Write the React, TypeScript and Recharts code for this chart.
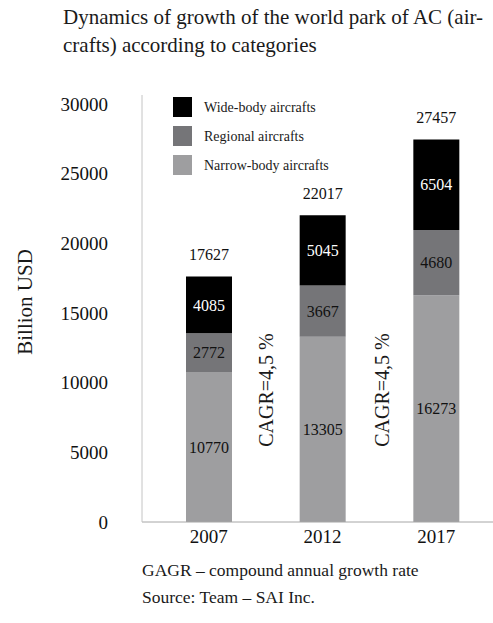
import React from 'react';
import { BarChart, Bar, XAxis, YAxis, LabelList } from 'recharts';

const years = ['2007', '2012', '2017'];
const narrowBody = [10770, 13305, 16273];
const regional = [2772, 3667, 4680];
const wideBody = [4085, 5045, 6504];
const totals = [17627, 22017, 27457];
const yTicks = [0, 5000, 10000, 15000, 20000, 25000, 30000];

const FONT = 'Liberation Serif, Times New Roman, serif';
const WIDE = '#000000';
const REGIONAL = '#757578';
const NARROW = '#9e9ea0';

const data = years.map((year, i) => ({
  year,
  narrow: narrowBody[i],
  regional: regional[i],
  wide: wideBody[i],
  total: totals[i],
}));

const legendItems = [
  { name: 'Wide-body aircrafts', color: WIDE },
  { name: 'Regional aircrafts', color: REGIONAL },
  { name: 'Narrow-body aircrafts', color: NARROW },
];

// total printed above each stacked column
// eslint-disable-next-line @typescript-eslint/no-explicit-any
function TotalLabel(props: any) {
  const { x, y, width, index } = props;
  return (
    <text
      x={x + width / 2}
      y={y - 22}
      textAnchor="middle"
      dominantBaseline="central"
      fontSize={16}
      style={{ fontFamily: FONT }}
      fill="#111"
    >
      {totals[index]}
    </text>
  );
}

const tickStyle = { fontSize: 19, fill: '#111', style: { fontFamily: FONT } };

export default function App() {
  return (
    <div style={{ position: 'absolute', left: 0, top: 0, width: 493, height: 623, background: '#fff', fontFamily: FONT }}>
      <BarChart
        width={493}
        height={623}
        data={data}
        margin={{ top: 95, right: 0, left: 0, bottom: 71 }}
        barSize={46}
        style={{ fontFamily: FONT }}
      >
        <XAxis
          dataKey="year"
          height={30}
          padding={{ left: 10, right: 0 }}
          tickLine={false}
          tickSize={0}
          tickMargin={8}
          axisLine={{ stroke: '#a6a6a6' }}
          tick={tickStyle}
        />
        <YAxis
          width={142}
          domain={[0, 30650]}
          ticks={yTicks}
          interval={0}
          tickLine={false}
          tickSize={0}
          tickMargin={34}
          axisLine={{ stroke: '#c4c4c4' }}
          tick={tickStyle}
        />
        <Bar dataKey="narrow" stackId="a" fill={NARROW} isAnimationActive={false}>
          <LabelList dataKey="narrow" position="center" fontSize={16} fill="#111" style={{ fontFamily: FONT }} />
        </Bar>
        <Bar dataKey="regional" stackId="a" fill={REGIONAL} isAnimationActive={false}>
          <LabelList dataKey="regional" position="center" fontSize={16} fill="#111" style={{ fontFamily: FONT }} />
        </Bar>
        <Bar dataKey="wide" stackId="a" fill={WIDE} isAnimationActive={false}>
          <LabelList dataKey="wide" position="center" fontSize={16} fill="#fff" style={{ fontFamily: FONT }} />
          <LabelList dataKey="total" content={<TotalLabel />} />
        </Bar>
      </BarChart>

      <svg width={493} height={623} style={{ position: 'absolute', left: 0, top: 0, pointerEvents: 'none', fontFamily: FONT }}>
        <g fill="#1a1a1a">
          <text x={63} y={24} fontSize={21}>
            Dynamics of growth of the world park of AC (air-
          </text>
          <text x={63} y={52} fontSize={21}>
            crafts) according to categories
          </text>

          <text x={25} y={302} fontSize={21} textAnchor="middle" dominantBaseline="central" transform="rotate(-90 25 302)">
            Billion USD
          </text>

          <text x={266} y={390} fontSize={20} textAnchor="middle" dominantBaseline="central" transform="rotate(-90 266 390)">
            CAGR=4,5 %
          </text>
          <text x={382} y={390} fontSize={20} textAnchor="middle" dominantBaseline="central" transform="rotate(-90 382 390)">
            CAGR=4,5 %
          </text>

          {legendItems.map((item, i) => (
            <g key={item.name}>
              <rect x={173} y={97 + i * 29} width={19} height={20} fill={item.color} />
              <text x={204} y={107 + i * 29} fontSize={14} dominantBaseline="central">
                {item.name}
              </text>
            </g>
          ))}

          <text x={142} y={576} fontSize={17.5}>
            GAGR – compound annual growth rate
          </text>
          <text x={142} y={603} fontSize={17.5}>
            Source: Team – SAI Inc.
          </text>
        </g>
      </svg>
    </div>
  );
}
